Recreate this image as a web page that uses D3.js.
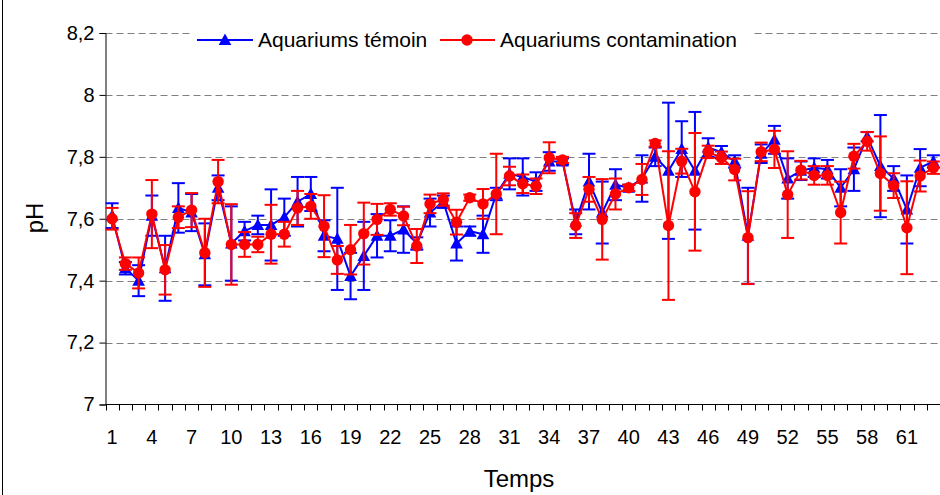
<!DOCTYPE html>
<html><head><meta charset="utf-8">
<script src="https://cdn.jsdelivr.net/npm/d3@7"></script>
<style>
html,body{margin:0;padding:0;background:#fff;}
svg{display:block;font-family:"Liberation Sans",Arial,sans-serif;}
</style></head>
<body><svg id="c" width="940" height="495"></svg>
<script>
const categories = d3.range(1, 64);
const temoin = [7.61,7.44,7.40,7.61,7.44,7.635,7.62,7.485,7.70,7.52,7.56,7.58,7.58,7.605,7.655,7.68,7.545,7.535,7.415,7.48,7.545,7.545,7.565,7.52,7.62,7.655,7.52,7.56,7.55,7.68,7.745,7.735,7.72,7.785,7.785,7.59,7.72,7.62,7.71,7.70,7.73,7.80,7.755,7.825,7.755,7.83,7.815,7.785,7.545,7.81,7.855,7.73,7.755,7.765,7.76,7.70,7.76,7.865,7.77,7.73,7.63,7.765,7.785];
const temoinErr = [0.04,0.02,0.05,0.065,0.105,0.08,0.06,0.1,0.04,0.12,0.03,0.03,0.115,0.06,0.08,0.055,0.05,0.165,0.075,0.11,0.07,0.05,0.075,0.02,0.045,0.02,0.055,0.015,0.06,0.02,0.05,0.06,0.03,0.03,0.01,0.04,0.09,0.1,0.05,0.01,0.075,0.03,0.22,0.09,0.19,0.03,0.02,0.02,0.155,0.03,0.045,0.065,0.03,0.03,0.03,0.06,0.07,0.015,0.165,0.04,0.11,0.06,0.02];
const contam = [7.60,7.455,7.425,7.615,7.435,7.605,7.628,7.49,7.72,7.517,7.517,7.517,7.55,7.55,7.635,7.64,7.576,7.467,7.50,7.552,7.598,7.63,7.609,7.512,7.648,7.662,7.589,7.668,7.648,7.68,7.738,7.713,7.705,7.797,7.79,7.578,7.695,7.598,7.68,7.70,7.727,7.843,7.578,7.786,7.687,7.816,7.797,7.759,7.539,7.816,7.824,7.678,7.757,7.74,7.74,7.62,7.802,7.85,7.746,7.707,7.571,7.738,7.765];
const contamErr = [0.035,0.02,0.05,0.11,0.08,0.035,0.055,0.11,0.07,0.13,0.04,0.025,0.095,0.04,0.055,0.04,0.1,0.045,0.08,0.1,0.05,0.02,0.03,0.055,0.03,0.02,0.04,0.01,0.048,0.13,0.03,0.03,0.025,0.05,0.01,0.04,0.04,0.13,0.05,0.01,0.05,0.01,0.24,0.04,0.19,0.02,0.02,0.035,0.15,0.03,0.06,0.14,0.03,0.03,0.03,0.1,0.04,0.03,0.12,0.04,0.15,0.05,0.02];
const yTicks = [7,7.2,7.4,7.6,7.8,8,8.2];
const xLabelTicks = d3.range(1, 64, 3);
const seriesNames = ["Aquariums témoin","Aquariums contamination"];

const svg = d3.select("#c");
const L = 105.5, R = 940, T = 33, B = 404.5;
const x = d3.scaleBand().domain(categories).range([L, R]).padding(0);
const bw = x.bandwidth();
const cx = c => x(c) + bw/2;
const y = d3.scaleLinear().domain([7, 8.2]).range([B, T]);
const loc = d3.formatLocale({decimal: ",", thousands: " ", grouping: [3], currency: ["", ""]});
const fmt = loc.format("~");

// frame
svg.append("line").attr("x1",2.5).attr("x2",2.5).attr("y1",0).attr("y2",495).attr("stroke","#000").attr("stroke-width",1);

// grid
svg.append("g").selectAll("line").data(yTicks.filter(v => v > 7)).join("line")
  .attr("x1", L).attr("x2", R).attr("y1", d => Math.round(y(d))+0.5).attr("y2", d => Math.round(y(d))+0.5)
  .attr("stroke", "#808080").attr("stroke-width", 1).attr("stroke-dasharray", "7,4");

// y axis
const yAxis = svg.append("g").attr("transform", `translate(${L},0)`)
  .call(d3.axisLeft(y).tickValues(yTicks).tickFormat(fmt).tickSize(6).tickPadding(5));
yAxis.select(".domain").attr("stroke","#000");
yAxis.selectAll(".tick line").attr("stroke","#000");
yAxis.selectAll("text").attr("font-size", 20).attr("fill","#000").style("font-family","Liberation Sans, Arial");

// x axis
const xAxis = svg.append("g").attr("transform", `translate(0,${B})`)
  .call(d3.axisBottom(x).tickValues(xLabelTicks).tickSize(0).tickPadding(25));
xAxis.select(".domain").remove();
xAxis.selectAll("text").attr("font-size", 20).attr("fill","#000").style("font-family","Liberation Sans, Arial");
svg.append("line").attr("x1", L).attr("x2", R).attr("y1", B).attr("y2", B).attr("stroke","#000");
svg.append("g").selectAll("line").data(categories).join("line")
  .attr("x1", d => Math.round(x(d))+0.5).attr("x2", d => Math.round(x(d))+0.5)
  .attr("y1", B).attr("y2", B+6).attr("stroke","#000");

// titles
svg.append("text").attr("x", 519).attr("y", 487).attr("text-anchor","middle").attr("font-size", 24).text("Temps");
svg.append("text").attr("transform","translate(43,218) rotate(-90)").attr("text-anchor","middle").attr("font-size", 24).text("pH");

const tri = "M0,-6.5L6.3,5L-6.3,5Z";
function drawSeries(vals, errs, color, marker){
  const g = svg.append("g");
  const pts = categories.map((c,i) => ({c, v: vals[i], e: errs[i]}));
  g.append("path").datum(pts).attr("fill","none").attr("stroke", color).attr("stroke-width", 2)
    .attr("d", d3.line().x(d => cx(d.c)).y(d => y(d.v)));
  const eg = g.append("g").attr("stroke", color).attr("stroke-width", 2);
  pts.forEach(d => {
    const X = cx(d.c);
    eg.append("line").attr("x1",X).attr("x2",X).attr("y1",y(d.v - d.e)).attr("y2",y(d.v + d.e));
    [d.v - d.e, d.v + d.e].forEach(v => eg.append("line").attr("x1",X-6.5).attr("x2",X+6.5).attr("y1",y(v)).attr("y2",y(v)));
  });
  if (marker === "tri") {
    g.append("g").selectAll("path").data(pts).join("path")
      .attr("d", tri).attr("fill", color).attr("transform", d => `translate(${cx(d.c)},${y(d.v)})`);
  } else {
    g.append("g").selectAll("circle").data(pts).join("circle")
      .attr("cx", d => cx(d.c)).attr("cy", d => y(d.v)).attr("r", 5.7).attr("fill", color);
  }
}
drawSeries(temoin, temoinErr, "#0000ff", "tri");
drawSeries(contam, contamErr, "#ff0000", "circle");

// legend
const lg = svg.append("g");
lg.append("rect").attr("x", 192).attr("y", 22).attr("width", 560).attr("height", 30).attr("fill","#fff");
lg.append("line").attr("x1",197).attr("x2",253).attr("y1",40).attr("y2",40).attr("stroke","#0000ff").attr("stroke-width",2);
lg.append("path").attr("d", tri).attr("fill","#0000ff").attr("transform","translate(225,40)");
lg.append("text").attr("x",258).attr("y",47).attr("font-size",21).text(seriesNames[0]);
lg.append("line").attr("x1",440).attr("x2",495).attr("y1",40).attr("y2",40).attr("stroke","#ff0000").attr("stroke-width",2);
lg.append("circle").attr("cx",467).attr("cy",40).attr("r",5.7).attr("fill","#ff0000");
lg.append("text").attr("x",500).attr("y",47).attr("font-size",21).text(seriesNames[1]);
</script></body></html>
